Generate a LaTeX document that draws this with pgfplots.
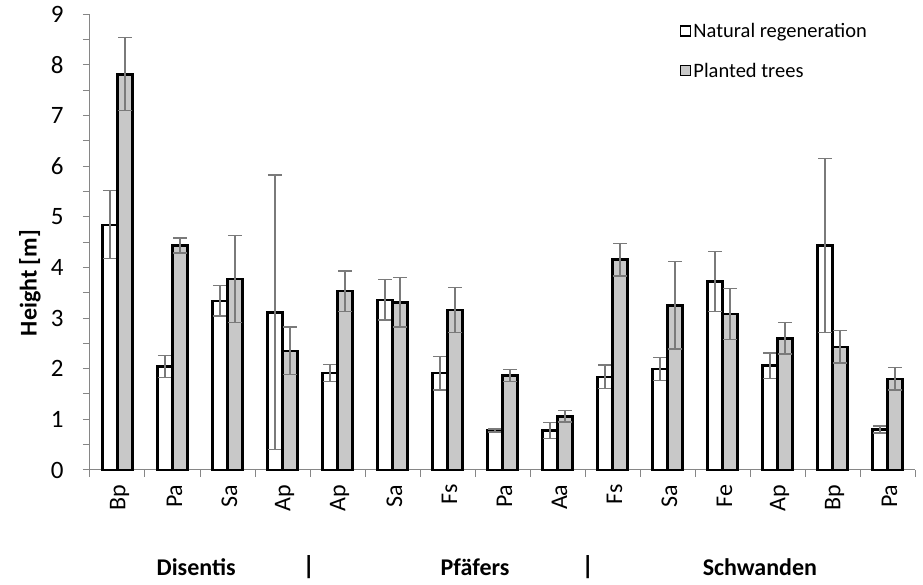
\documentclass[border=0pt]{standalone}
\usepackage{pgfplots}
\pgfplotsset{compat=1.18}
\usepackage{pgfplotstable}
\usepackage{fontspec}
\setmainfont{Carlito}
\definecolor{axgray}{HTML}{868686}
\definecolor{bargray}{HTML}{C8C8C8}
\definecolor{errgray}{HTML}{7A7A7A}
% xn / xp: bar centres of the two series in each category
\pgfplotstableread{
xn xp nat natErr pl plErr
0.3636 0.6364 4.84 0.67 7.81 0.72
1.3636 1.6364 2.04 0.22 4.43 0.15
2.3636 2.6364 3.34 0.30 3.77 0.86
3.3636 3.6364 3.11 2.71 2.35 0.47
4.3636 4.6364 1.91 0.17 3.53 0.40
5.3636 5.6364 3.36 0.40 3.31 0.49
6.3636 6.6364 1.91 0.33 3.16 0.44
7.3636 7.6364 0.78 0.03 1.87 0.12
8.3636 8.6364 0.78 0.16 1.06 0.11
9.3636 9.6364 1.84 0.23 4.15 0.32
10.3636 10.6364 1.99 0.23 3.25 0.86
11.3636 11.6364 3.72 0.59 3.08 0.50
12.3636 12.6364 2.06 0.25 2.60 0.31
13.3636 13.6364 4.43 1.72 2.43 0.32
14.3636 14.6364 0.80 0.07 1.80 0.22
}\data
\begin{document}
\begin{tikzpicture}[x=1pt,y=1pt]
\path[use as bounding box] (-90,-115) rectangle (833,470);
\begin{axis}[
  at={(0,0)}, anchor=south west,
  scale only axis, width=825pt, height=456pt,
  xmin=0, xmax=15, ymin=0, ymax=9,
  clip=false,
  axis lines*=left,
  axis line style={axgray, line width=1pt},
  tick align=outside,
  major tick length=7pt, minor tick length=7pt,
  tick style={axgray, line width=1pt},
  ytick={0,...,9}, minor y tick num=1,
  xtick={0,...,15}, xticklabels={},
  extra x ticks={0.5,1.5,...,14.5},
  extra x tick labels={Bp,Pa,Sa,Ap,Ap,Sa,Fs,Pa,Aa,Fs,Sa,Fe,Ap,Bp,Pa},
  extra x tick style={major tick length=0pt, xticklabel style={rotate=90, anchor=east, font=\fontsize{24}{28}\selectfont, xshift=-11pt, yshift=-2pt}},
  /pgf/number format/assume math mode=true,
  yticklabel style={font=\fontsize{25}{30}\selectfont, xshift=-16pt},
  ylabel={Height [m]},
  ylabel style={font=\bfseries\fontsize{24}{28}\selectfont, at={(rel axis cs:-0.073,0.41)}, anchor=center},
  legend style={at={(rel axis cs:0.7152,0.985)}, anchor=north west, draw=none, fill=none,
    font=\fontsize{20.5}{24}\selectfont, row sep=20pt, inner xsep=0pt, inner ysep=0pt},
  legend cell align=left,
]
\addplot[ybar, bar width=15pt, bar shift=0pt, fill=white, draw=black, line width=2.5pt,
  legend image code/.code={\draw[fill=white, draw=black, line width=1.2pt] (0pt,-5pt) rectangle (10pt,5pt);},
  error bars/.cd, y dir=both, y explicit,
  error bar style={errgray, line width=1.3pt},
  error mark options={errgray, line width=1.3pt, mark size=7pt, rotate=90}]
  table[x=xn, y=nat, y error=natErr]{\data};
\addlegendentry{Natural regeneration}
\addplot[ybar, bar width=15pt, bar shift=0pt, fill=bargray, draw=black, line width=2.5pt,
  legend image code/.code={\draw[fill=bargray, draw=black, line width=1.2pt] (0pt,-5pt) rectangle (10pt,5pt);},
  error bars/.cd, y dir=both, y explicit,
  error bar style={errgray, line width=1.3pt},
  error mark options={errgray, line width=1.3pt, mark size=7pt, rotate=90}]
  table[x=xp, y=pl, y error=plErr]{\data};
\addlegendentry{Planted trees}
\node[font=\bfseries\fontsize{24}{28}\selectfont] at (axis cs:1.93,-1.91) {Disentis};
\node[font=\bfseries\fontsize{26}{28}\selectfont] at (axis cs:3.98,-1.91) {|};
\node[font=\bfseries\fontsize{24}{28}\selectfont] at (axis cs:7.00,-1.91) {Pfäfers};
\node[font=\bfseries\fontsize{26}{28}\selectfont] at (axis cs:9.05,-1.91) {|};
\node[font=\bfseries\fontsize{24}{28}\selectfont] at (axis cs:12.18,-1.91) {Schwanden};
\end{axis}
\end{tikzpicture}
\end{document}
